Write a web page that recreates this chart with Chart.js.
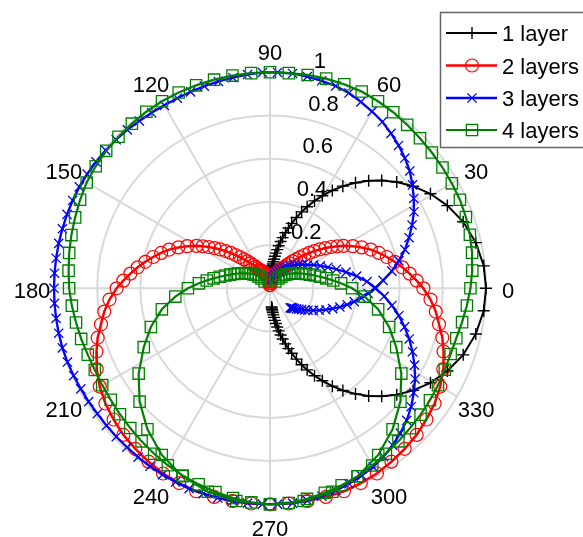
<!DOCTYPE html>
<html>
<head>
<meta charset="utf-8">
<script src="https://cdn.jsdelivr.net/npm/chart.js@4.4.1/dist/chart.umd.min.js"></script>
<style>
html,body{margin:0;padding:0;background:#fff;overflow:hidden}
canvas{display:block}
</style>
</head>
<body>
<canvas id="c" width="583" height="537"></canvas>
<script>
// ---------------- DATA ----------------
const seriesNames = ['1 layer', '2 layers', '3 layers', '4 layers'];
const angleTicks = [0, 30, 60, 90, 120, 150, 180, 210, 240, 270, 300, 330];
const angleTickLabels = ['0', '30', '60', '90', '120', '150', '180', '210', '240', '270', '300', '330'];
const radialTicks = [0.2, 0.4, 0.6, 0.8, 1];
const radialTickLabels = ['0.2', '0.4', '0.6', '0.8', '1'];

// 1 layer (angle in degrees, radius)
const layer1Angle = [-85,-84.7,-84.4,-84,-83.5,-82.9,-82.2,-81.4,-80.5,-79.5,-78.4,-77.2,-76,-74.5,-73,-71.5,-69.5,-67.5,-65.5,-63,-60.5,-57.5,-54.5,-51,-47.5,-44,-40,-35.5,-30.5,-25,-19,-12.5,-6,
  0,6,12.5,19,25,30.5,35.5,40,44,47.5,51,54.5,57.5,60.5,63,65.5,67.5,69.5,71.5,73,74.5,76,77.2,78.4,79.5,80.5,81.4,82.2,82.9,83.5,84,84.4,84.7,85];
const layer1R = [0.087,0.092,0.098,0.105,0.113,0.124,0.136,0.150,0.165,0.182,0.201,0.222,0.242,0.267,0.292,0.317,0.350,0.383,0.415,0.454,0.492,0.537,0.581,0.629,0.676,0.719,0.766,0.814,0.862,0.906,0.946,0.976,0.995,
  1.0,0.995,0.976,0.946,0.906,0.862,0.814,0.766,0.719,0.676,0.629,0.581,0.537,0.492,0.454,0.415,0.383,0.350,0.317,0.292,0.267,0.242,0.222,0.201,0.182,0.165,0.150,0.136,0.124,0.113,0.105,0.098,0.092,0.087];

// 2 layers
const layer2Angle = [96,98,100,102,104,106,108,110,112,114,116,118,120,122,124,126,128,130,132,134,136,138,140,142,144,146,148,150,
  153,156,159,162,165,168,171,174,177,180,184,188,192,196,200,205,210,215,220,225,230,235,240,245,250,255,260,265,270,
  275,280,285,290,295,300,305,310,315,320,325,330,335,340,344,348,352,356,0,3,6,9,12,15,18,21,24,27,30,
  32,34,36,38,40,42,44,46,48,50,52,54,56,58,60,62,64,66,68,70,72,74,76,78,80,82,84];
const layer2R = [0.015,0.025,0.035,0.045,0.053,0.06,0.067,0.073,0.079,0.085,0.09,0.095,0.10,0.11,0.12,0.133,0.147,0.163,0.18,0.2,0.222,0.245,0.268,0.292,0.317,0.342,0.367,0.393,
  0.43,0.465,0.50,0.53,0.56,0.59,0.62,0.65,0.68,0.71,0.745,0.775,0.80,0.83,0.855,0.885,0.91,0.93,0.945,0.96,0.97,0.98,0.99,0.995,1.0,1.0,1.0,1.0,1.0,
  1.0,1.0,1.0,1.0,0.995,0.99,0.98,0.97,0.96,0.945,0.93,0.91,0.885,0.855,0.83,0.80,0.775,0.745,0.71,0.68,0.65,0.62,0.59,0.56,0.53,0.50,0.465,0.43,0.393,
  0.367,0.342,0.317,0.292,0.268,0.245,0.222,0.2,0.18,0.163,0.147,0.133,0.12,0.11,0.10,0.095,0.09,0.085,0.079,0.073,0.067,0.06,0.053,0.045,0.035,0.025,0.015];

// 3 layers
const layer3Angle = [-44,-43,-42,-41,-40,-38,-36,-34,-32,-30,-27,-24,-21,-18,-15,-12,-9,-6,-3,
  0,4,8,12,16,20,24,28,32,36,40,44,48,52,56,60,64,68,72,76,80,84,88,92,96,100,104,108,112,116,120,124,128,132,136,140,144,148,152,156,160,164,168,172,176,180,
  184,188,192,196,200,204,208,212,216,220,224,228,232,236,240,244,248,252,256,260,264,268,272,276,280,284,288,292,296,300,304,308,312,316,320,324,328,332,336,340,344,348,352,356,
  0,4,8,12,16,20,24,28,32,36,40,44,48,52,56,60,64,68,72,76,80];
const layer3R = [0.13,0.133,0.137,0.141,0.145,0.155,0.165,0.177,0.19,0.203,0.225,0.25,0.277,0.305,0.335,0.365,0.395,0.425,0.455,
  0.485,0.525,0.57,0.61,0.65,0.685,0.72,0.755,0.785,0.815,0.845,0.868,0.89,0.91,0.93,0.945,0.96,0.975,0.985,0.99,0.995,1.0,1.0,1.0,0.995,0.99,0.987,0.984,0.981,0.979,0.978,0.98,0.983,0.987,0.99,0.993,0.996,0.998,1.0,1.0,1.0,1.0,1.0,1.0,1.0,1.0,
  1.0,1.0,1.0,1.0,0.998,0.995,0.992,0.99,0.988,0.988,0.989,0.99,0.992,0.994,0.996,0.998,1.0,1.0,1.0,1.0,1.0,1.0,1.0,1.0,0.998,0.992,0.985,0.976,0.966,0.955,0.94,0.922,0.902,0.88,0.853,0.823,0.792,0.758,0.722,0.686,0.648,0.61,0.57,0.53,
  0.49,0.45,0.405,0.36,0.32,0.285,0.255,0.23,0.205,0.185,0.17,0.155,0.14,0.127,0.115,0.103,0.092,0.08,0.068,0.055,0.04];

// 4 layers (inner left lobe -> outer loop -> inner right lobe)
const layer4Angle = [128,131,134,137,140,143,146,149,152,155,158,161,164,167,170,173,176,180,185,191,198,205,213,221,229,237,245,253,261,270,
  275,280,285,290,295,300,305,310,315,320,325,330,335,340,345,350,355,
  0,5,10,15,20,25,30,35,40,45,50,55,60,65,70,75,80,85,90,95,100,105,110,115,120,125,130,135,140,145,150,155,160,165,170,175,180,185,190,195,
  200,205,210,215,220,225,230,235,240,245,250,255,260,265,270,
  279,287,295,303,311,319,327,335,342,349,355,0,4,7,10,13,16,19,22,25,28,31,34,37,40,43,46,49,52];
const layer4R = [0.04,0.06,0.075,0.09,0.1,0.112,0.124,0.136,0.148,0.162,0.177,0.195,0.215,0.238,0.265,0.295,0.33,0.38,0.44,0.51,0.58,0.645,0.725,0.8,0.865,0.92,0.96,0.985,0.997,1.0,
  0.998,0.99,0.98,0.97,0.96,0.947,0.935,0.925,0.916,0.91,0.904,0.898,0.893,0.89,0.893,0.903,0.915,
  0.928,0.94,0.95,0.958,0.965,0.97,0.972,0.975,0.978,0.982,0.988,0.995,1.0,1.005,1.005,1.005,1.003,1.0,1.0,1.0,1.0,1.0,1.0,1.0,1.0,0.998,0.995,0.992,0.99,0.985,0.98,0.97,0.96,0.952,0.944,0.936,0.93,0.921,0.912,0.905,
  0.898,0.895,0.897,0.9,0.907,0.915,0.925,0.935,0.946,0.956,0.966,0.976,0.986,0.995,1.0,
  0.997,0.985,0.96,0.92,0.865,0.8,0.725,0.645,0.58,0.51,0.44,0.38,0.33,0.295,0.265,0.238,0.215,0.195,0.177,0.162,0.148,0.136,0.124,0.112,0.1,0.09,0.075,0.06,0.04];

// ---------------- BUILD ----------------
function polarToXY(angles, radii) {
  return angles.map((a, i) => {
    const t = a * Math.PI / 180;
    return { x: radii[i] * Math.cos(t), y: radii[i] * Math.sin(t) };
  });
}

const FONT = '22px "Liberation Sans", Arial, Helvetica, sans-serif';
const styles = [
  { color: '#000000', style: 'cross',    radius: 6,   lw: 2,   pbw: 1.4 },
  { color: '#ff0000', style: 'circle',   radius: 6.5, lw: 2.5, pbw: 1.2 },
  { color: '#0000ff', style: 'crossRot', radius: 6.5, lw: 2.3, pbw: 1.3 },
  { color: '#008000', style: 'rect',     radius: 8,   lw: 2.2, pbw: 1.3 }
];
const seriesData = [
  polarToXY(layer1Angle, layer1R),
  polarToXY(layer2Angle, layer2R),
  polarToXY(layer3Angle, layer3R),
  polarToXY(layer4Angle, layer4R)
];

const W = 583, H = 537, CX = 270, CY = 288.3, RPX = 216;

function drawMarker(ctx, style, x, y, r) {
  ctx.beginPath();
  if (style === 'cross') {
    ctx.moveTo(x - r, y); ctx.lineTo(x + r, y);
    ctx.moveTo(x, y - r); ctx.lineTo(x, y + r);
  } else if (style === 'crossRot') {
    const d = r * Math.SQRT1_2;
    ctx.moveTo(x - d, y - d); ctx.lineTo(x + d, y + d);
    ctx.moveTo(x + d, y - d); ctx.lineTo(x - d, y + d);
  } else if (style === 'circle') {
    ctx.arc(x, y, r, 0, Math.PI * 2);
  } else if (style === 'rect') {
    const s = r * Math.SQRT1_2;
    ctx.rect(x - s, y - s, 2 * s, 2 * s);
  }
  ctx.stroke();
}

const polarGrid = {
  id: 'polarGrid',
  beforeDatasetsDraw(chart) {
    const ctx = chart.ctx;
    const xs = chart.scales.x, ys = chart.scales.y;
    const cx = xs.getPixelForValue(0), cy = ys.getPixelForValue(0);
    const R = xs.getPixelForValue(1) - cx;
    ctx.save();
    ctx.strokeStyle = '#d9d9d9';
    ctx.lineWidth = 2;
    radialTicks.forEach(v => {
      ctx.beginPath(); ctx.arc(cx, cy, v * R, 0, Math.PI * 2); ctx.stroke();
    });
    angleTicks.forEach(a => {
      const t = a * Math.PI / 180;
      ctx.beginPath();
      ctx.moveTo(cx, cy);
      ctx.lineTo(xs.getPixelForValue(Math.cos(t)), ys.getPixelForValue(Math.sin(t)));
      ctx.stroke();
    });
    ctx.fillStyle = '#000';
    ctx.font = FONT;
    ctx.textBaseline = 'alphabetic';
    // angle labels
    ctx.textAlign = 'center';
    const lr = 238 / R;
    angleTicks.forEach((a, i) => {
      const t = a * Math.PI / 180;
      const px = xs.getPixelForValue(lr * Math.cos(t));
      const py = ys.getPixelForValue(lr * Math.sin(t)) + 2;
      ctx.fillText(angleTickLabels[i], px, py + 8);
    });
    // radial tick labels
    ctx.textAlign = 'left';
    const ta = 82.4 * Math.PI / 180;
    radialTicks.forEach((v, i) => {
      const px = xs.getPixelForValue(v * Math.cos(ta)) + 15.3;
      const py = ys.getPixelForValue(v * Math.sin(ta)) - 14.5;
      ctx.fillText(radialTickLabels[i], px, py + 8);
    });
    ctx.restore();
  }
};

const legendBox = {
  id: 'legendBox',
  afterDraw(chart) {
    const ctx = chart.ctx;
    ctx.save();
    ctx.fillStyle = '#fff';
    ctx.fillRect(440.5, 12.5, 200, 135);
    ctx.strokeStyle = '#646464';
    ctx.lineWidth = 1.5;
    ctx.strokeRect(440.5, 12.5, 200, 135);
    const rows = [33, 65.5, 98, 130];
    ctx.font = FONT;
    ctx.textAlign = 'left';
    ctx.textBaseline = 'alphabetic';
    seriesNames.forEach((name, i) => {
      const s = styles[i];
      const y = rows[i];
      ctx.strokeStyle = s.color;
      ctx.lineWidth = s.lw;
      ctx.beginPath(); ctx.moveTo(446, y); ctx.lineTo(497, y); ctx.stroke();
      ctx.lineWidth = s.pbw;
      drawMarker(ctx, s.style, 472, y, s.radius);
      ctx.fillStyle = '#000';
      ctx.fillText(name, 502, y + 8);
    });
    ctx.restore();
  }
};

const datasets = seriesData.map((d, i) => ({
  label: seriesNames[i],
  data: d,
  showLine: true,
  borderColor: styles[i].color,
  borderWidth: styles[i].lw,
  backgroundColor: 'rgba(0,0,0,0)',
  pointStyle: styles[i].style,
  pointRadius: styles[i].radius,
  pointHoverRadius: styles[i].radius,
  pointBorderColor: styles[i].color,
  pointBackgroundColor: 'rgba(0,0,0,0)',
  pointBorderWidth: styles[i].pbw,
  tension: 0,
  fill: false,
  clip: false,
  order: 4 - i
}));

new Chart(document.getElementById('c'), {
  type: 'scatter',
  data: { datasets },
  options: {
    responsive: false,
    animation: false,
    devicePixelRatio: 1,
    events: [],
    layout: { padding: 0, autoPadding: false },
    scales: {
      x: { type: 'linear', display: false, min: -CX / RPX, max: (W - CX) / RPX },
      y: { type: 'linear', display: false, min: -(H - CY) / RPX, max: CY / RPX }
    },
    plugins: { legend: { display: false }, tooltip: { enabled: false }, title: { display: false } }
  },
  plugins: [polarGrid, legendBox]
});
</script>
</body>
</html>
